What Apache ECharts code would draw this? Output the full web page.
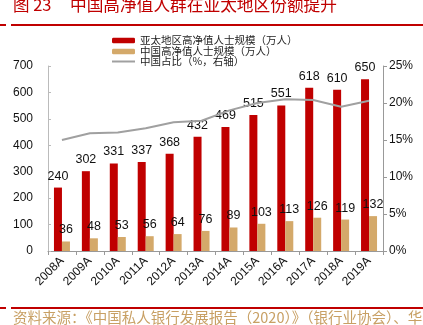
<!DOCTYPE html>
<html><head><meta charset="utf-8">
<script src="https://cdn.jsdelivr.net/npm/echarts@6/dist/echarts.min.js"></script>
<style>html,body{margin:0;padding:0;background:#fff}#c{width:423px;height:325px}</style>
</head><body><div id="c"></div>
<script>
const categories = ['2008A','2009A','2010A','2011A','2012A','2013A','2014A','2015A','2016A','2017A','2018A','2019A'];
const apacValues = [240,302,331,337,368,432,469,515,551,618,610,650];
const chinaValues = [36,48,53,56,64,76,89,103,113,126,119,132];
const chinaShare = [15.0,15.9,16.0,16.6,17.4,17.6,19.0,20.0,20.5,20.4,19.5,20.3];
const leftTicks = [0,700,100];
const rightTicks = [0,25,5];
const seriesNames = ['亚太地区高净值人士规模（万人）','中国高净值人士规模（万人）','中国占比（%，右轴）'];

const chart = echarts.init(document.getElementById('c'), null, {renderer:'canvas'});
const font = 'Liberation Sans, Arial, sans-serif';
const cjk = '"Noto Sans CJK SC", sans-serif';
chart.setOption({
  animation:false,
  textStyle:{fontFamily:font},
  grid:{left:48,right:40,top:66,bottom:74},
  legend:{
    orient:'vertical', left:112, top:35, padding:0, itemWidth:23, itemHeight:5.5, itemGap:0,
    textStyle:{fontFamily:cjk,fontSize:10.5,lineHeight:11,color:'#222'},
    data:[seriesNames[0],seriesNames[1]]
  },
  xAxis:{
    type:'category', data:categories,
    axisLine:{lineStyle:{color:'#999'}},
    axisTick:{show:true,length:4,lineStyle:{color:'#999'}},
    axisLabel:{rotate:45,fontSize:12,color:'#111',margin:8,interval:0}
  },
  yAxis:[
    {type:'value',min:leftTicks[0],max:leftTicks[1],interval:leftTicks[2],
     axisLine:{show:true,lineStyle:{color:'#bbb'}},axisTick:{show:true,inside:true,length:3,lineStyle:{color:'#bbb'}},
     splitLine:{show:false},axisLabel:{fontSize:12,color:'#111',margin:15}},
    {type:'value',min:rightTicks[0],max:rightTicks[1],interval:rightTicks[2],
     axisLine:{show:true,lineStyle:{color:'#999'}},axisTick:{show:true,length:4,lineStyle:{color:'#999'}},
     splitLine:{show:false},axisLabel:{fontSize:12,color:'#111',formatter:'{value}%',margin:6}}
  ],
  series:[
    {name:seriesNames[0],type:'bar',data:apacValues,barWidth:8,barGap:'0%',
     itemStyle:{color:'#C00000'},
     label:{show:true,position:'top',distance:5,fontSize:12.5,color:'#111'}},
    {name:seriesNames[1],type:'bar',data:chinaValues,barWidth:8,
     itemStyle:{color:'#D4A96A'},
     label:{show:true,position:'top',distance:5,fontSize:12.5,color:'#111'}},
    {name:seriesNames[2],type:'line',yAxisIndex:1,data:chinaShare,symbol:'none',
     lineStyle:{color:'#A0A0A0',width:2},itemStyle:{color:'#A0A0A0'},z:5}
  ],
  graphic:[
    {type:'text',left:13,top:-4,style:{text:'图 23',fill:'#C00000',font:'16.5px '+cjk}},
    {type:'text',left:70,top:-4,style:{text:'中国高净值人群在亚太地区份额提升',fill:'#C00000',font:'16.7px '+cjk}},
    {type:'rect',shape:{x:0,y:24,width:6,height:2},style:{fill:'#C00000'}},
    {type:'rect',shape:{x:11,y:24,width:412,height:2},style:{fill:'#C00000'}},
    {type:'line',shape:{x1:112,y1:61.5,x2:135,y2:61.5},style:{stroke:'#A0A0A0',lineWidth:2}},
    {type:'text',left:140,top:55.5,style:{text:seriesNames[2],fill:'#222',font:'10.5px '+cjk}},
    {type:'rect',shape:{x:0,y:307,width:6,height:2},style:{fill:'#C00000'}},
    {type:'rect',shape:{x:11,y:307,width:412,height:2},style:{fill:'#C00000'}},
    {type:'text',left:13,top:310,style:{text:'资料来源：《中国私人银行发展报告（2020）》（银行业协会）、华泰证券研究所',fill:'#C8A064',font:'14.5px '+cjk}}
  ]
});
</script></body></html>
